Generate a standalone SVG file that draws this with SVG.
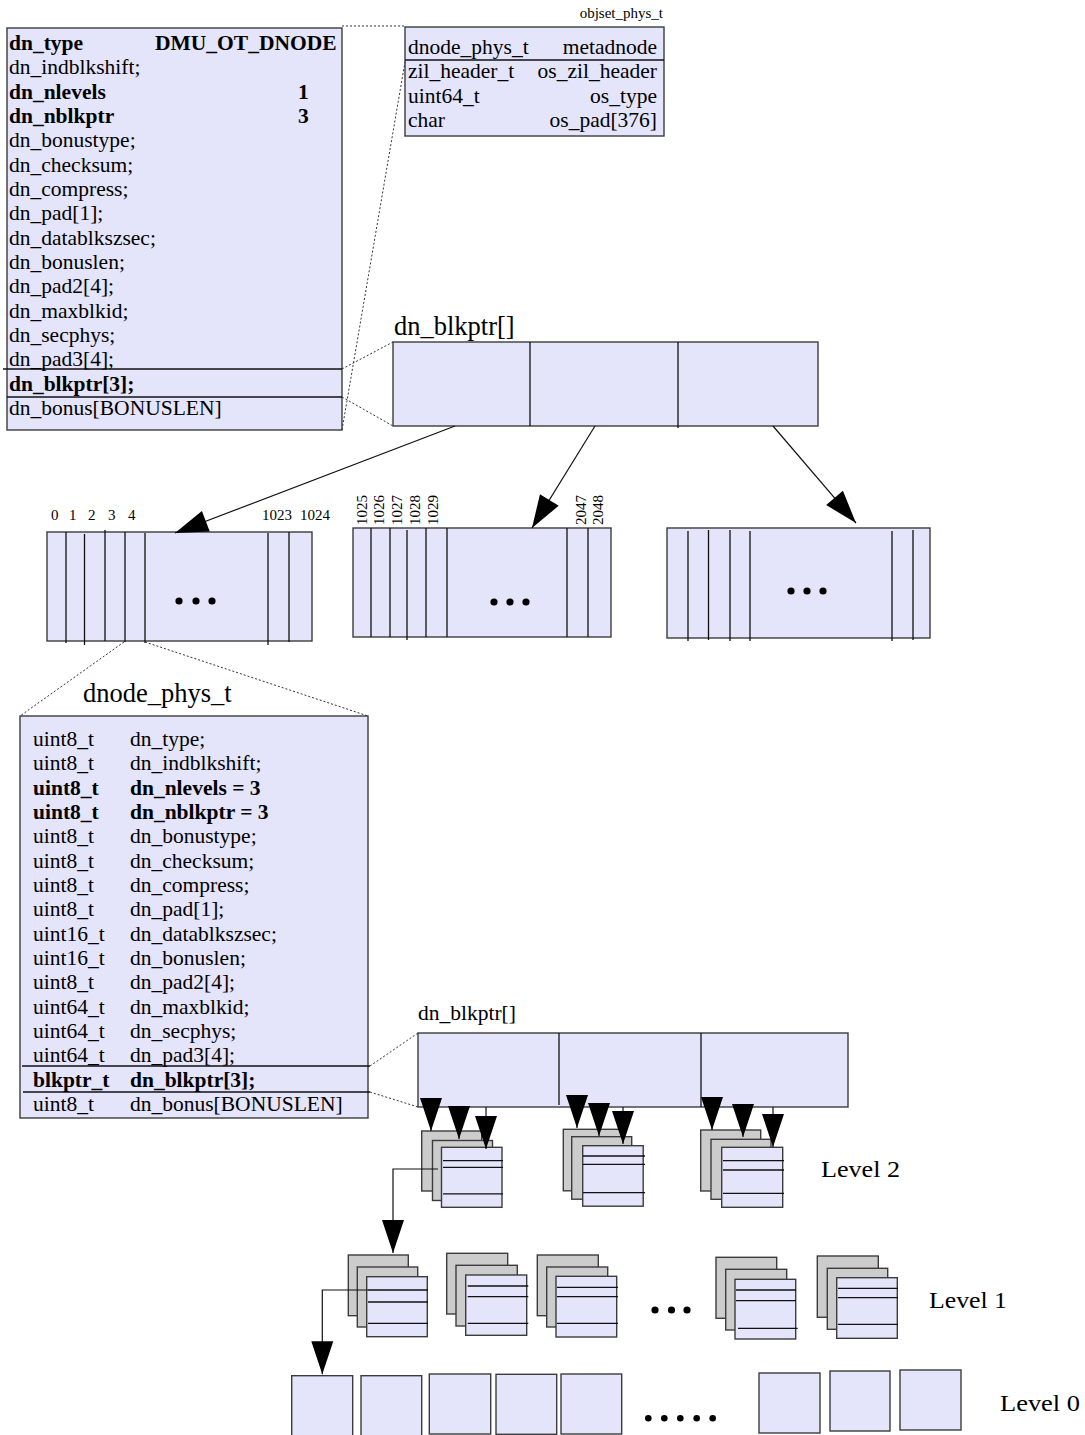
<svg xmlns="http://www.w3.org/2000/svg" width="1085" height="1435" viewBox="0 0 1085 1435">
<defs>
<marker id="ah" markerUnits="userSpaceOnUse" markerWidth="34" markerHeight="24" refX="33" refY="11" orient="auto" overflow="visible">
<path d="M0,0 L33,11 L0,22 z" fill="#000"/>
</marker>
<style>
.box{fill:#e4e4fa;stroke:#3c3c3c;stroke-width:1.4}
.gray{fill:#cccccc;stroke:#3c3c3c;stroke-width:1.4}
.ln{stroke:#111;stroke-width:1.3;fill:none}
.sep{stroke:#111;stroke-width:1.3}
.dotl{fill:none;stroke:#333;stroke-width:1;stroke-dasharray:2,2}
.conn{stroke:#111;stroke-width:1.2;fill:none}
.t{font-family:"Liberation Serif","Times New Roman",serif;font-size:21.5px;fill:#000}
.b{font-weight:bold}
.sm{font-family:"Liberation Serif","Times New Roman",serif;font-size:15px;fill:#000}
.lg{font-family:"Liberation Serif","Times New Roman",serif;font-size:26.5px;fill:#000}
.lvl{font-family:"Liberation Serif","Times New Roman",serif;font-size:24px;fill:#000}
.r{text-anchor:end}
</style>
</defs>
<rect width="1085" height="1435" fill="#fff"/>

<g id="dnode-meta">
<rect class="box" x="7" y="28" width="335" height="402"/>
<line class="sep" x1="3" y1="369" x2="342" y2="369"/>
<line class="sep" x1="7" y1="397" x2="342" y2="397"/>
<text class="t b" x="9" y="50">dn_type</text><text class="t b" x="155" y="50">DMU_OT_DNODE</text>
<text class="t" x="9" y="74.3">dn_indblkshift;</text>
<text class="t b" x="9" y="98.7">dn_nlevels</text><text class="t b" x="298" y="98.7">1</text>
<text class="t b" x="9" y="123">dn_nblkptr</text><text class="t b" x="298" y="123">3</text>
<text class="t" x="9" y="147.3">dn_bonustype;</text>
<text class="t" x="9" y="171.7">dn_checksum;</text>
<text class="t" x="9" y="196">dn_compress;</text>
<text class="t" x="9" y="220.3">dn_pad[1];</text>
<text class="t" x="9" y="244.7">dn_datablkszsec;</text>
<text class="t" x="9" y="269">dn_bonuslen;</text>
<text class="t" x="9" y="293.3">dn_pad2[4];</text>
<text class="t" x="9" y="317.7">dn_maxblkid;</text>
<text class="t" x="9" y="342">dn_secphys;</text>
<text class="t" x="9" y="366.3">dn_pad3[4];</text>
<text class="t b" x="9" y="390.7">dn_blkptr[3];</text>
<text class="t" x="9" y="415">dn_bonus[BONUSLEN]</text>
</g>

<g id="objset">
<text class="sm r" x="663" y="18">objset_phys_t</text>
<rect class="box" x="405" y="27" width="259" height="109"/>
<line class="sep" x1="405" y1="60" x2="664" y2="60"/>
<text class="t" x="408" y="54">dnode_phys_t</text><text class="t r" x="657" y="54">metadnode</text>
<text class="t" x="408" y="78.3">zil_header_t</text><text class="t r" x="657" y="78.3">os_zil_header</text>
<text class="t" x="408" y="102.6">uint64_t</text><text class="t r" x="657" y="102.6">os_type</text>
<text class="t" x="408" y="127">char</text><text class="t r" x="657" y="127">os_pad[376]</text>
</g>

<g id="blkptr-top">
<text class="lg" x="394" y="335" font-size="27">dn_blkptr[]</text>
<rect class="box" x="393" y="342" width="425" height="84"/>
<line class="sep" x1="530" y1="342" x2="530" y2="426"/>
<line class="sep" x1="678" y1="342" x2="678" y2="428"/>
</g>

<g id="array-1">
<text class="sm" x="51" y="520">0</text>
<text class="sm" x="69" y="520">1</text>
<text class="sm" x="88" y="520">2</text>
<text class="sm" x="108" y="520">3</text>
<text class="sm" x="128" y="520">4</text>
<text class="sm" x="262" y="520">1023</text>
<text class="sm" x="300" y="520">1024</text>
<rect class="box" x="47" y="532" width="265" height="109"/>
<path class="ln" d="M66,532V643 M84.5,534V645 M105,530V641 M125,532V642 M145,533V643 M268,533V645 M289,532V642"/>
<circle cx="179" cy="601" r="3.6"/><circle cx="196" cy="601" r="3.6"/><circle cx="212" cy="601" r="3.6"/>
</g>

<g id="array-2">
<text class="sm" font-size="14.5" transform="translate(366.5,525) rotate(-90)">1025</text>
<text class="sm" font-size="14.5" transform="translate(383.8,525) rotate(-90)">1026</text>
<text class="sm" font-size="14.5" transform="translate(401.5,525) rotate(-90)">1027</text>
<text class="sm" font-size="14.5" transform="translate(419.8,525) rotate(-90)">1028</text>
<text class="sm" font-size="14.5" transform="translate(437.8,525) rotate(-90)">1029</text>
<text class="sm" font-size="14.5" transform="translate(585.5,525) rotate(-90)">2047</text>
<text class="sm" font-size="14.5" transform="translate(602.8,525) rotate(-90)">2048</text>
<rect class="box" x="353" y="528" width="258" height="109"/>
<path class="ln" d="M371,528V637 M390,528V637 M407,530V640 M426,528V637 M447,528V637 M567,528V637 M588,528V637"/>
<circle cx="494" cy="602" r="3.6"/><circle cx="510" cy="602" r="3.6"/><circle cx="526" cy="602" r="3.6"/>
</g>

<g id="array-3">
<rect class="box" x="667" y="528" width="263" height="110"/>
<path class="ln" d="M688,531V641 M708.5,530V640 M730,530V641 M750,531V641 M892,531V641 M913,530V640"/>
<circle cx="791" cy="591" r="3.6"/><circle cx="807" cy="591" r="3.6"/><circle cx="823" cy="591" r="3.6"/>
</g>

<g id="dnode-phys">
<text class="lg" x="83" y="702">dnode_phys_t</text>
<rect class="box" x="20" y="716" width="348" height="402"/>
<line class="sep" x1="22" y1="1066" x2="370" y2="1066"/>
<line class="sep" x1="23" y1="1092" x2="370" y2="1092"/>
<text class="t" x="33" y="746">uint8_t</text><text class="t" x="130" y="746">dn_type;</text>
<text class="t" x="33" y="770.3">uint8_t</text><text class="t" x="130" y="770.3">dn_indblkshift;</text>
<text class="t b" x="33" y="794.7">uint8_t</text><text class="t b" x="130" y="794.7">dn_nlevels = 3</text>
<text class="t b" x="33" y="819">uint8_t</text><text class="t b" x="130" y="819">dn_nblkptr = 3</text>
<text class="t" x="33" y="843.3">uint8_t</text><text class="t" x="130" y="843.3">dn_bonustype;</text>
<text class="t" x="33" y="867.7">uint8_t</text><text class="t" x="130" y="867.7">dn_checksum;</text>
<text class="t" x="33" y="892">uint8_t</text><text class="t" x="130" y="892">dn_compress;</text>
<text class="t" x="33" y="916.3">uint8_t</text><text class="t" x="130" y="916.3">dn_pad[1];</text>
<text class="t" x="33" y="940.7">uint16_t</text><text class="t" x="130" y="940.7">dn_datablkszsec;</text>
<text class="t" x="33" y="965">uint16_t</text><text class="t" x="130" y="965">dn_bonuslen;</text>
<text class="t" x="33" y="989.3">uint8_t</text><text class="t" x="130" y="989.3">dn_pad2[4];</text>
<text class="t" x="33" y="1013.7">uint64_t</text><text class="t" x="130" y="1013.7">dn_maxblkid;</text>
<text class="t" x="33" y="1038">uint64_t</text><text class="t" x="130" y="1038">dn_secphys;</text>
<text class="t" x="33" y="1062.3">uint64_t</text><text class="t" x="130" y="1062.3">dn_pad3[4];</text>
<text class="t b" x="33" y="1086.7">blkptr_t</text><text class="t b" x="130" y="1086.7">dn_blkptr[3];</text>
<text class="t" x="33" y="1111">uint8_t</text><text class="t" x="130" y="1111">dn_bonus[BONUSLEN]</text>
</g>

<g id="blkptr-low">
<text class="t" x="418" y="1020" font-size="21.5">dn_blkptr[]</text>
<rect class="box" x="418" y="1033" width="430" height="74"/>
<line class="sep" x1="559" y1="1033" x2="559" y2="1105"/>
<line class="sep" x1="701" y1="1033" x2="701" y2="1107"/>
</g>

<g id="l2-a">
<rect class="gray" x="421.7" y="1131" width="60" height="60"/>
<rect class="gray" x="432.5" y="1140.5" width="60" height="60"/>
<rect class="box" x="441.5" y="1147.3" width="60.5" height="60"/>
<path class="ln" d="M443,1160.7H503 M443,1167.3H503 M443,1193.8H503"/>
</g>
<g id="l2-b">
<rect class="gray" x="563.3" y="1129.3" width="60" height="61.5"/>
<rect class="gray" x="571.7" y="1136.7" width="60" height="62.5"/>
<rect class="box" x="582.7" y="1145.7" width="60.5" height="60.5"/>
<path class="ln" d="M583,1156H645 M583,1164.3H645 M583,1192.7H645"/>
</g>
<g id="l2-c">
<rect class="gray" x="700.7" y="1130" width="60" height="61"/>
<rect class="gray" x="711" y="1139.3" width="60" height="60"/>
<rect class="box" x="721.7" y="1147.3" width="61" height="60"/>
<path class="ln" d="M723,1160.7H784 M723,1170H784 M723,1193.3H784"/>
</g>
<text id="lbl-l2" class="lvl" x="821" y="1177" textLength="79" lengthAdjust="spacingAndGlyphs">Level 2</text>

<g id="l1-a">
<rect class="gray" x="348.3" y="1255" width="60" height="60.7"/>
<rect class="gray" x="357.3" y="1267" width="60.4" height="60"/>
<rect class="box" x="366.7" y="1276.7" width="60.6" height="60"/>
<path class="ln" d="M368,1290H428 M368,1302H428 M368,1323.3H428"/>
</g>
<g id="l1-b">
<rect class="gray" x="446.7" y="1253.3" width="61" height="60.7"/>
<rect class="gray" x="456" y="1265.3" width="61.3" height="60.7"/>
<rect class="box" x="465.7" y="1275" width="61" height="60.3"/>
<path class="ln" d="M467.7,1286H528.3 M467.7,1296.7H528.3 M467.7,1323.3H528.3"/>
</g>
<g id="l1-c">
<rect class="gray" x="537.3" y="1255" width="61" height="60.7"/>
<rect class="gray" x="546.7" y="1267" width="61" height="60"/>
<rect class="box" x="556" y="1276.3" width="60.7" height="60.7"/>
<path class="ln" d="M557,1287.3H618 M557,1296.7H618 M557,1323.3H618"/>
</g>
<g id="l1-dots">
<circle cx="655" cy="1310" r="3.6"/><circle cx="671.5" cy="1310" r="3.6"/><circle cx="687" cy="1310" r="3.6"/>
</g>
<g id="l1-d">
<rect class="gray" x="716" y="1257.3" width="60.7" height="61"/>
<rect class="gray" x="725.7" y="1269.3" width="61" height="60.7"/>
<rect class="box" x="735" y="1279.3" width="60.7" height="59.7"/>
<path class="ln" d="M736,1290H796 M736,1300.7H796 M738,1328.3H797.7"/>
</g>
<g id="l1-e">
<rect class="gray" x="817.3" y="1256" width="61" height="61.3"/>
<rect class="gray" x="827.3" y="1268.3" width="60.4" height="61"/>
<rect class="box" x="836.7" y="1277.7" width="60.6" height="60.6"/>
<path class="ln" d="M838,1288.3H898 M838,1297.7H898 M838,1324.3H898"/>
</g>
<text id="lbl-l1" class="lvl" x="929" y="1308" textLength="78" lengthAdjust="spacingAndGlyphs">Level 1</text>

<g id="l0">
<rect class="box" x="291.7" y="1375.7" width="61" height="62"/>
<rect class="box" x="361" y="1375.7" width="60.7" height="62"/>
<rect class="box" x="429.3" y="1374" width="61.4" height="60"/>
<rect class="box" x="496" y="1374.3" width="60.7" height="60"/>
<rect class="box" x="561" y="1374" width="60.7" height="60"/>
<rect class="box" x="759" y="1373" width="61" height="60"/>
<rect class="box" x="830" y="1371" width="60" height="60"/>
<rect class="box" x="900" y="1370" width="61" height="60"/>
</g>
<g id="l0-dots">
<circle cx="648.3" cy="1418.3" r="3.3"/><circle cx="664.3" cy="1418.3" r="3.3"/><circle cx="680.3" cy="1418.3" r="3.3"/><circle cx="696.7" cy="1418.3" r="3.3"/><circle cx="712.7" cy="1418.3" r="3.3"/>
</g>
<text id="lbl-l0" class="lvl" x="1000" y="1411" textLength="80" lengthAdjust="spacingAndGlyphs">Level 0</text>

<g id="connectors">
<path class="dotl" d="M342,26H405"/>
<path class="dotl" d="M342,430L405,62"/>
<path class="dotl" d="M342,369L393,342"/>
<path class="dotl" d="M342,397L393,426"/>
<path class="dotl" d="M124,642L20,716"/>
<path class="dotl" d="M145,642L368,716"/>
<path class="dotl" d="M370,1066L418,1033"/>
<path class="dotl" d="M370,1092L418,1107"/>
<path class="conn" d="M455,426L175,533" marker-end="url(#ah)"/>
<path class="conn" d="M595,426L532,528" marker-end="url(#ah)"/>
<path class="conn" d="M773,426L856,523" marker-end="url(#ah)"/>
<path class="conn" d="M431,1107V1131" marker-end="url(#ah)"/>
<path class="conn" d="M459,1107V1139" marker-end="url(#ah)"/>
<path class="conn" d="M486,1107V1149" marker-end="url(#ah)"/>
<path class="conn" d="M577,1107V1128" marker-end="url(#ah)"/>
<path class="conn" d="M599,1107V1136" marker-end="url(#ah)"/>
<path class="conn" d="M623,1107V1144" marker-end="url(#ah)"/>
<path class="conn" d="M712,1107V1130" marker-end="url(#ah)"/>
<path class="conn" d="M743,1107V1137" marker-end="url(#ah)"/>
<path class="conn" d="M773,1107V1147" marker-end="url(#ah)"/>
<path class="conn" d="M438,1169H393V1253" marker-end="url(#ah)"/>
<path class="conn" d="M368,1290H322.3V1374.3" marker-end="url(#ah)"/>
</g>
</svg>
